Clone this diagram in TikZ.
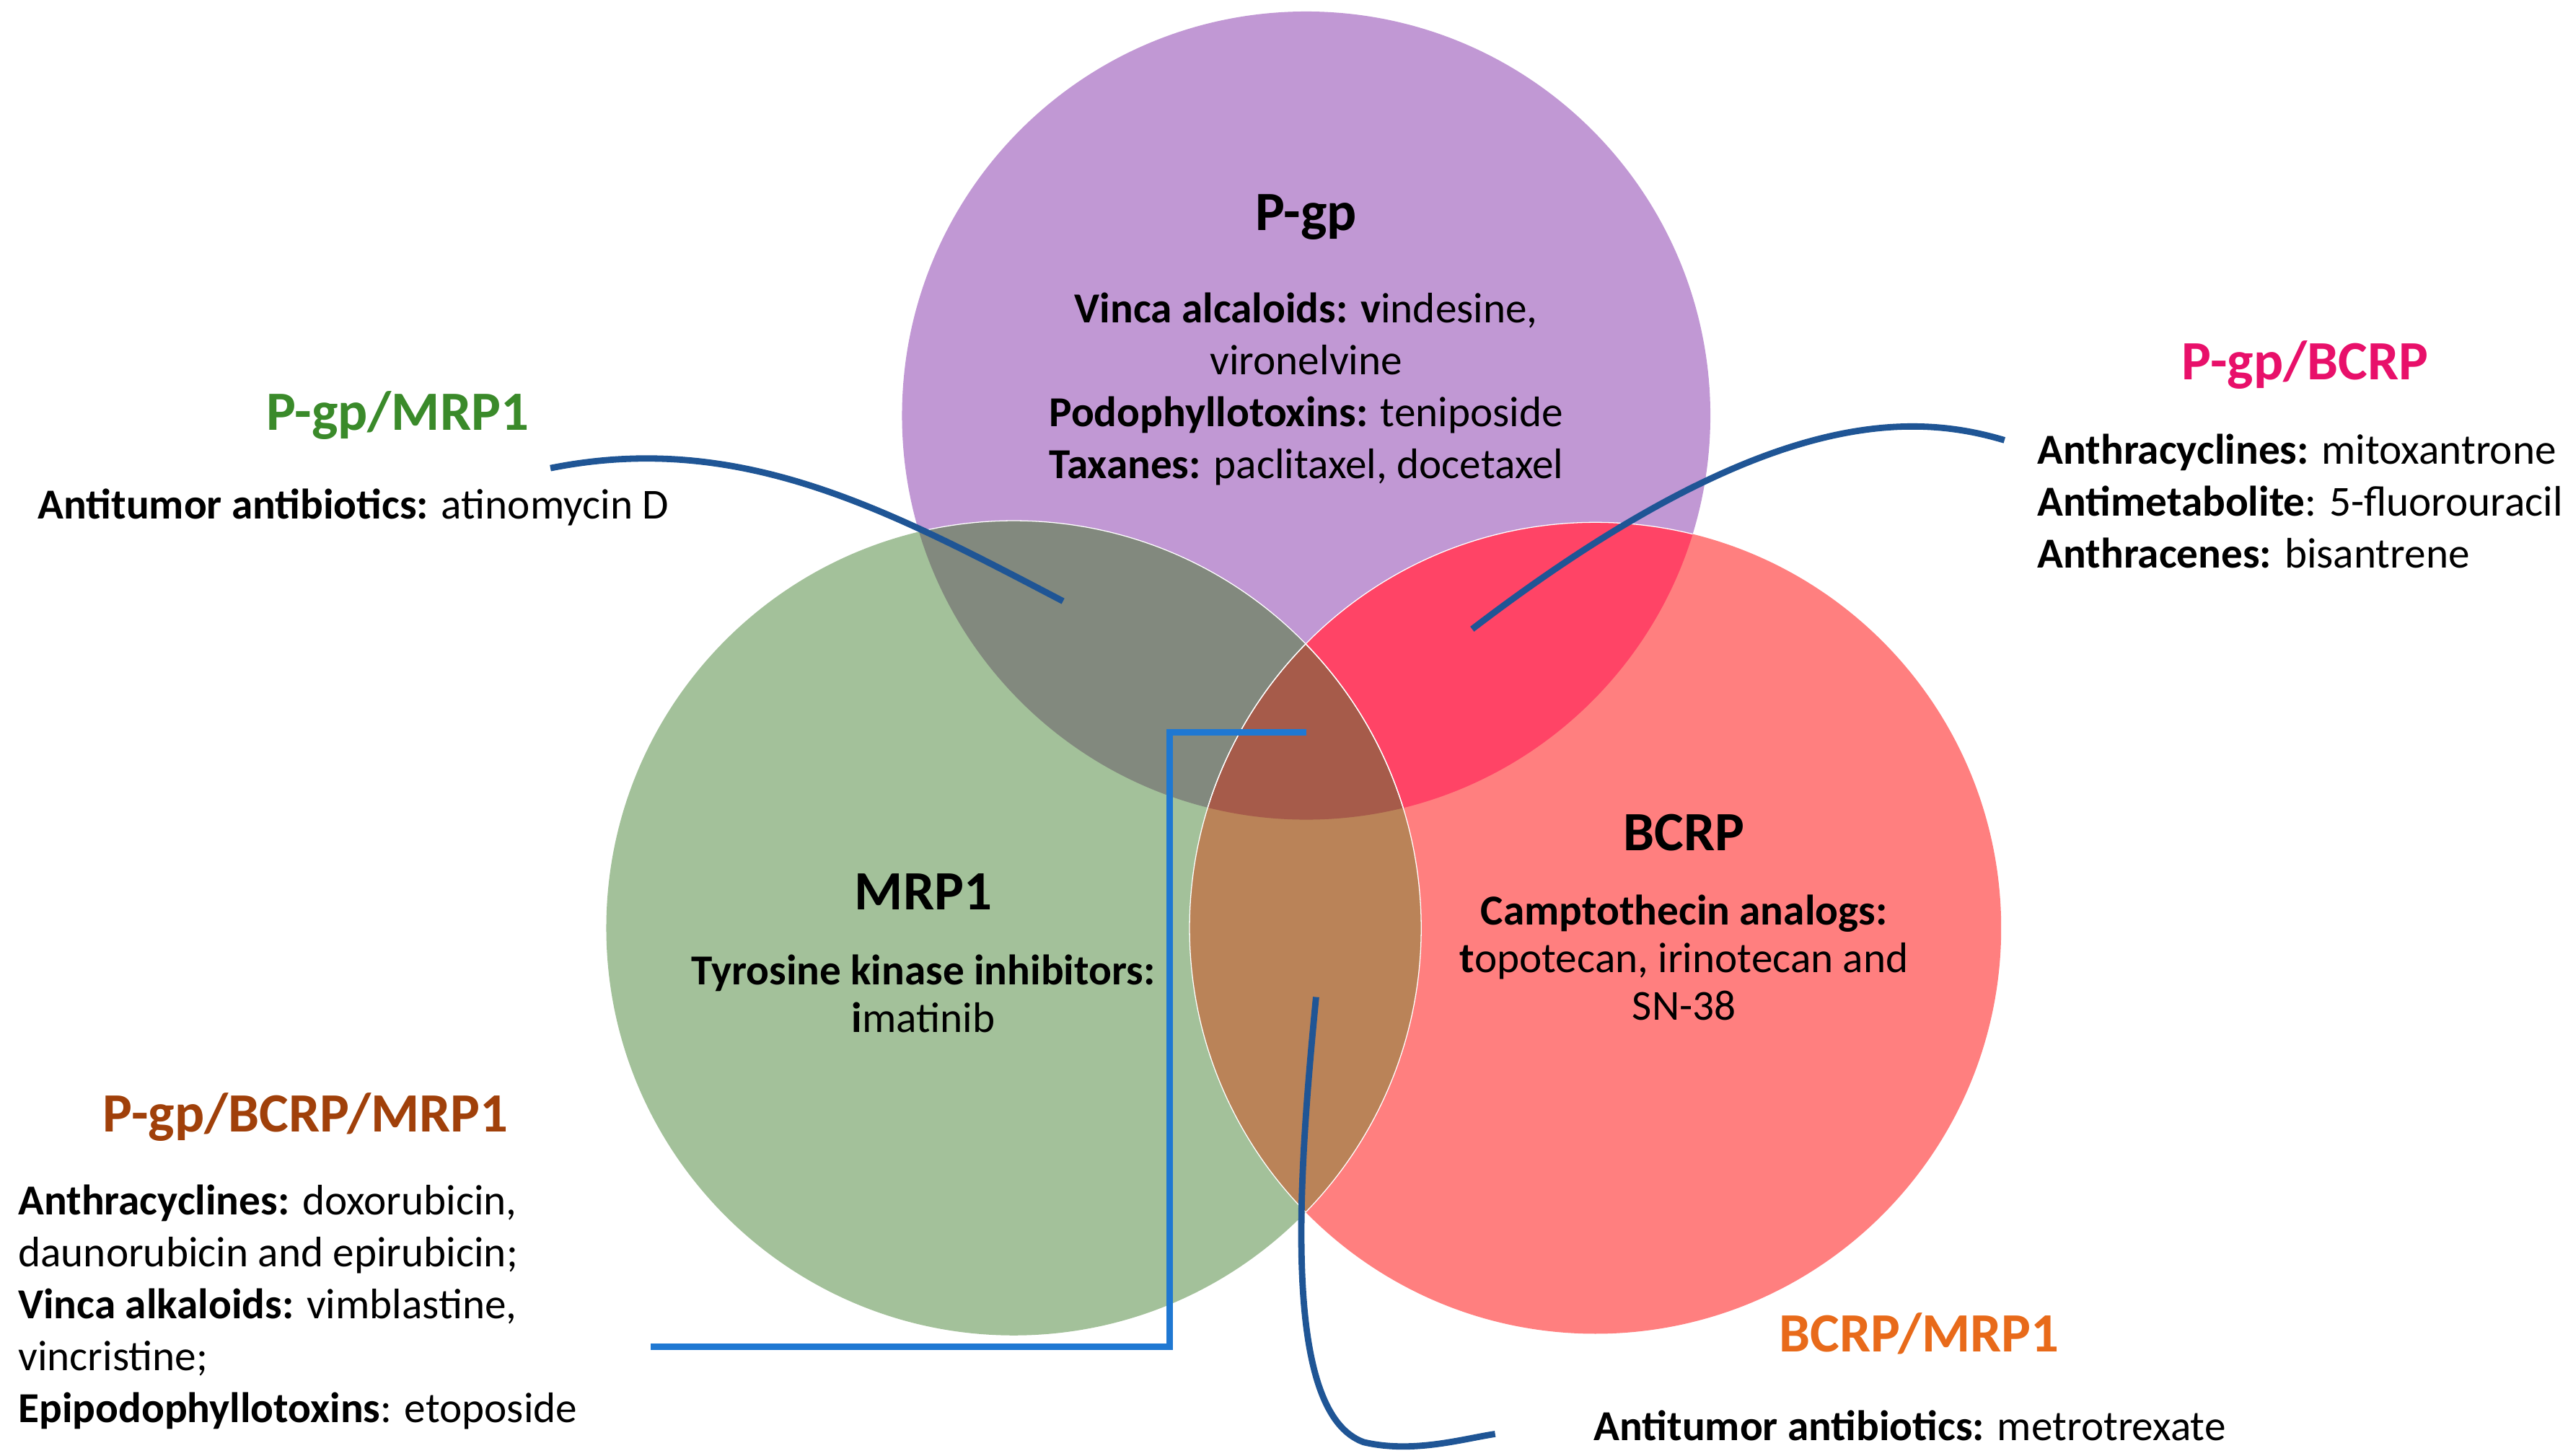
\documentclass[tikz,border=0pt]{standalone}
\usepackage{fontspec}
\setmainfont{Carlito}
\begin{document}
\begin{tikzpicture}[x=0.05cm,y=-0.05cm,
  body/.style={font=\fontsize{37}{45}\selectfont,inner sep=0pt},
  ttl/.style={font=\fontsize{48}{56}\selectfont\bfseries,inner sep=0pt}]
\definecolor{cP}{HTML}{C198D4}\definecolor{cM}{HTML}{A3C19A}\definecolor{cB}{HTML}{FF7F7F}
\definecolor{cPM}{HTML}{82897E}\definecolor{cPB}{HTML}{FF4466}\definecolor{cMB}{HTML}{BA8358}
\definecolor{cPMB}{HTML}{A65B4A}\definecolor{lead1}{HTML}{1F5595}\definecolor{lead2}{HTML}{1F78D2}
\useasboundingbox (0,0) rectangle (1563,886);
\def\P{(795,253) circle (246)}\def\M{(617,565) circle (248)}\def\B{(971,565) circle (247)}
\fill[cP] \P; \fill[cM] \M; \fill[cB] \B;
\begin{scope}\clip \P; \fill[cPM] \M; \fill[cPB] \B; \end{scope}
\begin{scope}\clip \M; \fill[cMB] \B; \end{scope}
\begin{scope}\clip \P; \clip \M; \fill[cPMB] \B; \end{scope}
\begin{scope}\clip \P; \draw[white,line width=0.8pt] \M; \draw[white,line width=0.8pt] \B; \end{scope}
\begin{scope}\clip \M; \draw[white,line width=0.8pt] \B; \end{scope}
\begin{scope}\clip \B; \draw[white,line width=0.8pt] \M; \end{scope}
% texts
\node[ttl] (tP) at (795,132) {P-gp};
\node[body,align=center] (xP) at (795,237) {\textbf{Vinca alcaloids: v}indesine,\\ vironelvine\\ \textbf{Podophyllotoxins:} teniposide\\ \textbf{Taxanes:} paclitaxel, docetaxel};
\node[ttl] (tM) at (562,543) {MRP1};
\node[body,align=center,font=\fontsize{37}{41}\selectfont] (xM) at (562,605) {\textbf{Tyrosine kinase inhibitors:}\\ \textbf{i}matinib};
\node[ttl] (tB) at (1025,507) {BCRP};
\node[body,align=center,font=\fontsize{37}{41}\selectfont] (xB) at (1025,583) {\textbf{Camptothecin analogs:}\\ \textbf{t}opotecan, irinotecan and\\ SN-38};
\definecolor{grn}{HTML}{3A8A2A}\definecolor{mag}{HTML}{E8106A}\definecolor{brn}{HTML}{A0400A}\definecolor{org}{HTML}{E86A1A}
\node[ttl,text=grn] (tPM) at (242,253) {P-gp/MRP1};
\node[body,anchor=west] (xPM) at (23,309) {\textbf{Antitumor antibiotics:} atinomycin D};
\node[ttl,text=mag] (tPB) at (1403,222) {P-gp/BCRP};
\node[body,anchor=north west,align=left] (xPB) at (1240,264) {\textbf{Anthracyclines:} mitoxantrone\\ \textbf{Antimetabolite}: 5-fluorouracil\\ \textbf{Anthracenes:} bisantrene};
\node[ttl,text=brn] (tPMB) at (186,680) {P-gp/BCRP/MRP1};
\node[body,anchor=north west,align=left] (xPMB) at (11,721) {\textbf{Anthracyclines:} doxorubicin,\\ daunorubicin and epirubicin;\\ \textbf{Vinca alkaloids:} vimblastine,\\ vincristine;\\ \textbf{Epipodophyllotoxins}: etoposide};
\node[ttl,text=org] (tMB) at (1168,812) {BCRP/MRP1};
\node[body,anchor=west] (xMB) at (970,868) {\textbf{Antitumor antibiotics:} metrotrexate};
% leaders
\coordinate (a1) at (335,285); \coordinate (a2) at (647,366);
\draw[line width=5.5pt,lead1] (a1) .. controls (450,262) and (540,310) .. (a2);
\coordinate (b1) at (1220,268); \coordinate (b2) at (896,383);
\draw[line width=5.5pt,lead1] (b1) .. controls (1160,250) and (1070,250) .. (b2);
\coordinate (c1) at (795,446); \coordinate (c2) at (712,446); \coordinate (c3) at (712,820); \coordinate (c4) at (396,820);
\draw[line width=5.5pt,lead2] (c1) -- (c2) -- (c3) -- (c4);
\coordinate (d1) at (801,607); \coordinate (d2) at (910,873);
\draw[line width=5.5pt,lead1] (d1) .. controls (790,720) and (780,860) .. (830,878) .. controls (860,885) and (890,876) .. (d2);
\end{tikzpicture}
\end{document}
